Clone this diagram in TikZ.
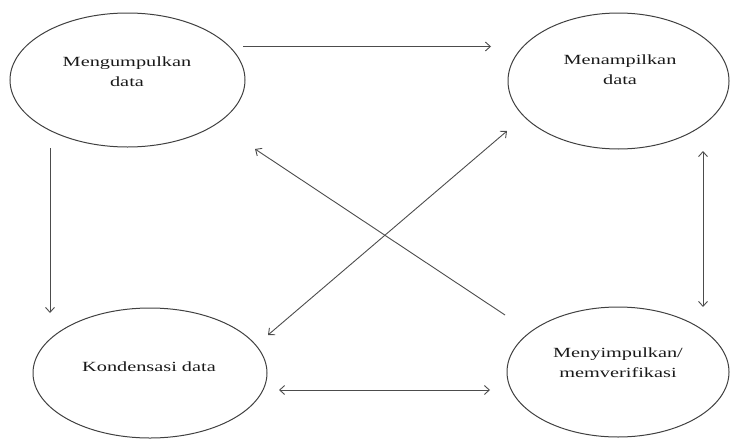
\documentclass[tikz,border=0pt]{standalone}
\usepackage{fontspec}
\setmainfont{Liberation Serif}
\usetikzlibrary{shapes.geometric,arrows.meta}
\tikzset{
  bubble/.style={draw=black!75, line width=1pt, ellipse, inner sep=0pt},
  lbl/.style={text=black!90, align=center, font=\fontsize{14}{20}\selectfont},
  conn/.style={draw=black!70, line width=0.9pt},
  tip/.style={-{Straight Barb[length=5pt,width=9pt]}},
  tips/.style={{Straight Barb[length=5pt,width=9pt]}-{Straight Barb[length=5pt,width=9pt]}}
}
\newcommand{\wide}[1]{\scalebox{1.45}[1]{#1}}
\begin{document}
\begin{tikzpicture}[x=1pt,y=-1pt]
\useasboundingbox (0,0) rectangle (730,439);
\node[bubble, minimum width=235pt, minimum height=134pt] (e1) at (127.5,80) {};
\node[bubble, minimum width=221pt, minimum height=136pt] (e2) at (618.5,81) {};
\node[bubble, minimum width=234pt, minimum height=130pt] (e3) at (150,373) {};
\node[bubble, minimum width=222pt, minimum height=130pt] (e4) at (618,372) {};
\node[lbl] (t1) at (127,72) {\wide{Mengumpulkan}\\\wide{data}};
\node[lbl] (t2) at (620,70) {\wide{Menampilkan}\\\wide{data}};
\node[lbl] (t3) at (149,367) {\wide{Kondensasi data}};
\node[lbl] (t4) at (618,363) {\wide{Menyimpulkan/}\\\wide{memverifikasi}};
% connector end points
\coordinate (a1) at (243,46.5);  \coordinate (a2) at (491,46.5);
\coordinate (b1) at (50,148);    \coordinate (b2) at (50,313);
\coordinate (c1) at (703,151);   \coordinate (c2) at (703,307);
\coordinate (d1) at (279,390);   \coordinate (d2) at (490,390);
\coordinate (f1) at (268,335);   \coordinate (f2) at (507,131);
\coordinate (g1) at (505,315);   \coordinate (g2) at (255,149);
\draw[conn,tip] (a1) -- (a2);
\draw[conn,tip] (b1) -- (b2);
\draw[conn,tips] (c1) -- (c2);
\draw[conn,tips] (d1) -- (d2);
\draw[conn,tips] (f1) -- (f2);
\draw[conn,tip] (g1) -- (g2);
\end{tikzpicture}
\end{document}
